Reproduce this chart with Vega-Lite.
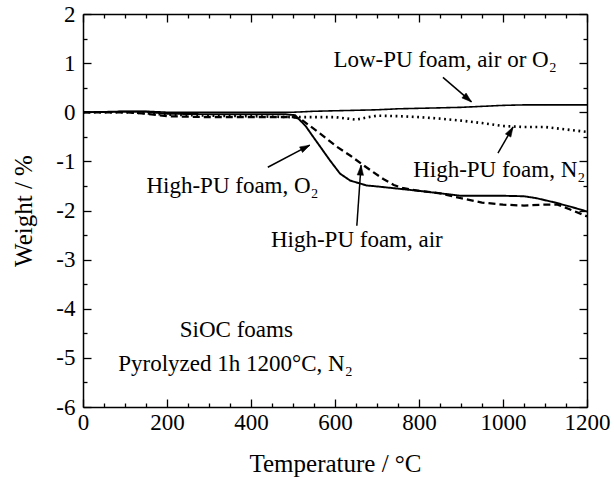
{
  "$schema": "https://vega.github.io/schema/vega-lite/v6.json",
  "autosize": "none",
  "width": 504,
  "height": 393,
  "padding": {"left": 83, "top": 14, "right": 27, "bottom": 76},
  "background": "white",
  "config": {
    "font": "Liberation Serif",
    "view": {"stroke": null},
    "axis": {
      "domainColor": "black", "domainWidth": 1.5, "tickColor": "black", "tickWidth": 1.3,
      "labelColor": "black", "labelFont": "Liberation Serif", "labelFontSize": 23,
      "titleFont": "Liberation Serif", "titleFontSize": 25, "titleFontWeight": "normal", "titleColor": "black",
      "grid": false
    }
  },
  "datasets": {
    "curves": [
      {"series": "low", "T": 0, "W": 0}, {"series": "low", "T": 50, "W": 0.01}, {"series": "low", "T": 100, "W": 0.02},
      {"series": "low", "T": 150, "W": 0.02}, {"series": "low", "T": 200, "W": 0.0}, {"series": "low", "T": 300, "W": 0.0},
      {"series": "low", "T": 400, "W": 0.0}, {"series": "low", "T": 500, "W": 0.0}, {"series": "low", "T": 550, "W": 0.02},
      {"series": "low", "T": 600, "W": 0.03}, {"series": "low", "T": 650, "W": 0.04}, {"series": "low", "T": 700, "W": 0.05},
      {"series": "low", "T": 750, "W": 0.07}, {"series": "low", "T": 800, "W": 0.08}, {"series": "low", "T": 850, "W": 0.09},
      {"series": "low", "T": 900, "W": 0.1}, {"series": "low", "T": 950, "W": 0.12}, {"series": "low", "T": 1000, "W": 0.14},
      {"series": "low", "T": 1050, "W": 0.15}, {"series": "low", "T": 1100, "W": 0.15}, {"series": "low", "T": 1150, "W": 0.15},
      {"series": "low", "T": 1200, "W": 0.15},

      {"series": "o2", "T": 0, "W": 0}, {"series": "o2", "T": 100, "W": 0.01}, {"series": "o2", "T": 150, "W": 0.01},
      {"series": "o2", "T": 200, "W": -0.03}, {"series": "o2", "T": 300, "W": -0.04}, {"series": "o2", "T": 400, "W": -0.04},
      {"series": "o2", "T": 480, "W": -0.04}, {"series": "o2", "T": 505, "W": -0.06}, {"series": "o2", "T": 530, "W": -0.28},
      {"series": "o2", "T": 548, "W": -0.5}, {"series": "o2", "T": 588, "W": -0.98}, {"series": "o2", "T": 612, "W": -1.25},
      {"series": "o2", "T": 636, "W": -1.39}, {"series": "o2", "T": 675, "W": -1.49}, {"series": "o2", "T": 700, "W": -1.51},
      {"series": "o2", "T": 755, "W": -1.56}, {"series": "o2", "T": 800, "W": -1.6}, {"series": "o2", "T": 850, "W": -1.65},
      {"series": "o2", "T": 900, "W": -1.7}, {"series": "o2", "T": 950, "W": -1.7}, {"series": "o2", "T": 1000, "W": -1.7},
      {"series": "o2", "T": 1050, "W": -1.71}, {"series": "o2", "T": 1080, "W": -1.75}, {"series": "o2", "T": 1120, "W": -1.83},
      {"series": "o2", "T": 1160, "W": -1.92}, {"series": "o2", "T": 1200, "W": -2.02},

      {"series": "air", "T": 0, "W": 0}, {"series": "air", "T": 100, "W": 0.0}, {"series": "air", "T": 150, "W": -0.03},
      {"series": "air", "T": 200, "W": -0.08}, {"series": "air", "T": 300, "W": -0.1}, {"series": "air", "T": 400, "W": -0.1},
      {"series": "air", "T": 500, "W": -0.1}, {"series": "air", "T": 517, "W": -0.13}, {"series": "air", "T": 564, "W": -0.43},
      {"series": "air", "T": 604, "W": -0.7}, {"series": "air", "T": 636, "W": -0.88}, {"series": "air", "T": 663, "W": -1.05},
      {"series": "air", "T": 691, "W": -1.22}, {"series": "air", "T": 715, "W": -1.36}, {"series": "air", "T": 740, "W": -1.48},
      {"series": "air", "T": 760, "W": -1.54}, {"series": "air", "T": 800, "W": -1.6}, {"series": "air", "T": 850, "W": -1.65},
      {"series": "air", "T": 900, "W": -1.75}, {"series": "air", "T": 950, "W": -1.84}, {"series": "air", "T": 1000, "W": -1.88},
      {"series": "air", "T": 1050, "W": -1.9}, {"series": "air", "T": 1100, "W": -1.88}, {"series": "air", "T": 1130, "W": -1.88},
      {"series": "air", "T": 1160, "W": -1.98}, {"series": "air", "T": 1200, "W": -2.12},

      {"series": "n2", "T": 0, "W": 0}, {"series": "n2", "T": 100, "W": 0.0}, {"series": "n2", "T": 150, "W": -0.02},
      {"series": "n2", "T": 200, "W": -0.05}, {"series": "n2", "T": 300, "W": -0.07}, {"series": "n2", "T": 400, "W": -0.08},
      {"series": "n2", "T": 500, "W": -0.1}, {"series": "n2", "T": 550, "W": -0.1}, {"series": "n2", "T": 600, "W": -0.1},
      {"series": "n2", "T": 630, "W": -0.13}, {"series": "n2", "T": 650, "W": -0.15}, {"series": "n2", "T": 680, "W": -0.1},
      {"series": "n2", "T": 700, "W": -0.07}, {"series": "n2", "T": 750, "W": -0.08}, {"series": "n2", "T": 800, "W": -0.1},
      {"series": "n2", "T": 850, "W": -0.13}, {"series": "n2", "T": 900, "W": -0.17}, {"series": "n2", "T": 950, "W": -0.22},
      {"series": "n2", "T": 1000, "W": -0.28}, {"series": "n2", "T": 1050, "W": -0.3}, {"series": "n2", "T": 1100, "W": -0.3},
      {"series": "n2", "T": 1150, "W": -0.35}, {"series": "n2", "T": 1200, "W": -0.4}
    ],
    "arrows": [
      {"T1": 857, "W1": 0.71, "T2": 925, "W2": 0.21, "angle": 130.6},
      {"T1": 440, "W1": -1.12, "T2": 540, "W2": -0.67, "angle": 62.4},
      {"T1": 652, "W1": -2.31, "T2": 662, "W2": -1.08, "angle": 4},
      {"T1": 988, "W1": -0.83, "T2": 1024, "W2": -0.3, "angle": 30.2}
    ],
    "labels": [
      {"T": 862, "W": 0.92, "text": "Low-PU foam, air or O₂"},
      {"T": 356, "W": -1.65, "text": "High-PU foam, O₂"},
      {"T": 652, "W": -2.75, "text": "High-PU foam, air"},
      {"T": 991, "W": -1.32, "text": "High-PU foam, N₂"},
      {"T": 365, "W": -4.58, "text": "SiOC foams"},
      {"T": 363, "W": -5.27, "text": "Pyrolyzed 1h 1200°C, N₂"}
    ]
  },
  "resolve": {"axis": {"x": "independent", "y": "independent"}},
  "layer": [
    {
      "data": {"name": "curves"},
      "mark": {"type": "line", "color": "black"},
      "encoding": {
        "x": {"field": "T", "type": "quantitative",
              "scale": {"domain": [0, 1200], "nice": false, "zero": false},
              "axis": {"orient": "bottom", "values": [0, 200, 400, 600, 800, 1000, 1200], "tickSize": -8,
                       "labelPadding": 12, "labelFlush": false, "labelExpr": "'' + datum.value",
                       "title": "Temperature / °C", "titlePadding": 17}},
        "y": {"field": "W", "type": "quantitative",
              "scale": {"domain": [-6, 2], "nice": false, "zero": false},
              "axis": {"orient": "left", "values": [-6, -5, -4, -3, -2, -1, 0, 1, 2], "tickSize": -8,
                       "labelPadding": 16, "labelFlush": false, "labelExpr": "'' + datum.value",
                       "title": "Weight  / %", "titlePadding": 19}},
        "detail": {"field": "series"},
        "strokeDash": {"field": "series", "type": "nominal", "legend": null,
                       "scale": {"domain": ["low", "o2", "air", "n2"], "range": [[1, 0], [1, 0], [7, 4], [1.8, 3.6]]}},
        "strokeWidth": {"field": "series", "type": "nominal", "legend": null,
                        "scale": {"domain": ["low", "o2", "air", "n2"], "range": [1.6, 2.6, 1.5, 1.8]}}
      }
    },
    {
      "data": {"name": "arrows"},
      "mark": {"type": "rule", "color": "black", "strokeWidth": 1.5},
      "encoding": {
        "x": {"field": "T1", "type": "quantitative", "axis": {"orient": "top", "values": [0, 200, 400, 600, 800, 1000, 1200], "tickSize": -8, "labels": false, "title": null}},
        "y": {"field": "W1", "type": "quantitative", "axis": {"orient": "right", "values": [-6, -5, -4, -3, -2, -1, 0, 1, 2], "tickSize": -8, "labels": false, "title": null}},
        "x2": {"field": "T2"},
        "y2": {"field": "W2"}
      }
    },
    {
      "data": {"name": "arrows"},
      "mark": {"type": "point", "shape": "M0,0L-0.42,1.3L0.42,1.3Z", "filled": true, "fill": "black", "stroke": "black", "strokeWidth": 0.5, "opacity": 1, "size": 230},
      "encoding": {
        "x": {"field": "T2", "type": "quantitative", "axis": {"orient": "bottom", "values": [50, 100, 150, 250, 300, 350, 450, 500, 550, 650, 700, 750, 850, 900, 950, 1050, 1100, 1150], "tickSize": -4, "labels": false, "domain": false, "title": null}},
        "y": {"field": "W2", "type": "quantitative", "axis": {"orient": "left", "values": [-5.5, -4.5, -3.5, -2.5, -1.5, -0.5, 0.5, 1.5], "tickSize": -4, "labels": false, "domain": false, "title": null}},
        "angle": {"field": "angle", "type": "quantitative", "scale": null}
      }
    },
    {
      "data": {"name": "labels"},
      "mark": {"type": "text", "color": "black", "font": "Liberation Serif", "fontSize": 23, "align": "center", "baseline": "alphabetic"},
      "encoding": {
        "x": {"field": "T", "type": "quantitative", "axis": {"orient": "top", "values": [50, 100, 150, 250, 300, 350, 450, 500, 550, 650, 700, 750, 850, 900, 950, 1050, 1100, 1150], "tickSize": -4, "labels": false, "domain": false, "title": null}},
        "y": {"field": "W", "type": "quantitative", "axis": {"orient": "right", "values": [-5.5, -4.5, -3.5, -2.5, -1.5, -0.5, 0.5, 1.5], "tickSize": -4, "labels": false, "domain": false, "title": null}},
        "text": {"field": "text"}
      }
    }
  ]
}
